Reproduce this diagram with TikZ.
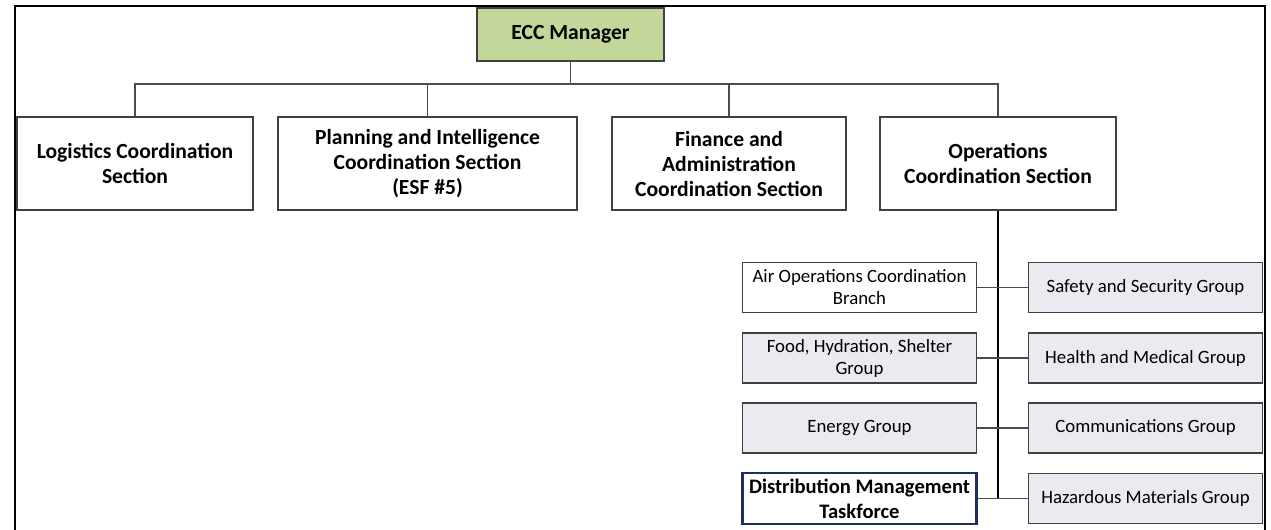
\documentclass[tikz,border=0pt]{standalone}
\usepackage{fontspec}
\setmainfont{Carlito}
\definecolor{mgrgreen}{RGB}{196,215,155}
\definecolor{grpgray}{RGB}{234,234,240}
\definecolor{boxline}{RGB}{64,64,64}
\definecolor{navy}{RGB}{31,45,96}
\begin{document}
\begin{tikzpicture}[x=0.5pt, y=-0.5pt,
    every node/.style={inner sep=1mm, align=center},
    section/.style={draw=boxline, line width=0.6pt, fill=white, minimum height=46.5pt,
      font=\bfseries\fontsize{10.8}{12.5}\selectfont},
    group/.style={draw=boxline, line width=0.6pt, fill=grpgray, minimum width=117pt,
      minimum height=25pt, font=\fontsize{9.4}{11}\selectfont},
    link/.style={draw=black!70, line width=0.6pt}]
  \useasboundingbox (0,0) rectangle (1271,530);
  % frame, open at the bottom
  \draw [line width=1.2pt] (15,530) -- (15,6) -- (1265,6) -- (1265,530);
  \node [section, fill=mgrgreen, minimum width=93.5pt, minimum height=26.5pt] (mgr) at (570.5,34.5) {ECC Manager};
  \node [section, minimum width=118pt] (log) at (135,163.5) {Logistics Coordination\\Section};
  \node [section, minimum width=149.5pt] (plan) at (427.5,163.5) {Planning and Intelligence\\Coordination Section\\(ESF \#5)};
  \node [section, minimum width=117pt] (fin) at (729,163.5) {Finance and\\Administration\\Coordination Section};
  \node [section, minimum width=118pt] (ops) at (998,163.5) {Operations\\Coordination Section};
  \coordinate (bus) at (570.5,84);
  \draw [link] (mgr) -- (bus);
  \draw [link] (log.north) |- (bus);
  \draw [link] (plan.north) -- (plan.north |- bus);
  \draw [link] (fin.north) -- (fin.north |- bus);
  \draw [link] (ops.north) |- (bus);
  % operations groups
  \node [group, fill=white] (air) at (859.5,287.5) {Air Operations Coordination\\Branch};
  \node [group] (food) at (859.5,358) {Food, Hydration, Shelter\\Group};
  \node [group] (energy) at (859.5,428) {Energy Group};
  \node [group, fill=white, draw=navy, line width=1.4pt,
    font=\bfseries\fontsize{10.3}{12.5}\selectfont] (dmt) at (859.5,498.5) {Distribution Management\\Taskforce};
  \node [group] (safe) at (1145.5,287.5) {Safety and Security Group};
  \node [group] (health) at (1145.5,358) {Health and Medical Group};
  \node [group] (comm) at (1145.5,428) {Communications Group};
  \node [group] (haz) at (1145.5,498.5) {Hazardous Materials Group};
  \draw [line width=1pt] (ops.south) -- (ops.south |- haz.west);
  \draw [link] (air) -- (safe);
  \draw [link] (food) -- (health);
  \draw [link] (energy) -- (comm);
  \draw [link] (dmt) -- (haz);
\end{tikzpicture}
\end{document}
